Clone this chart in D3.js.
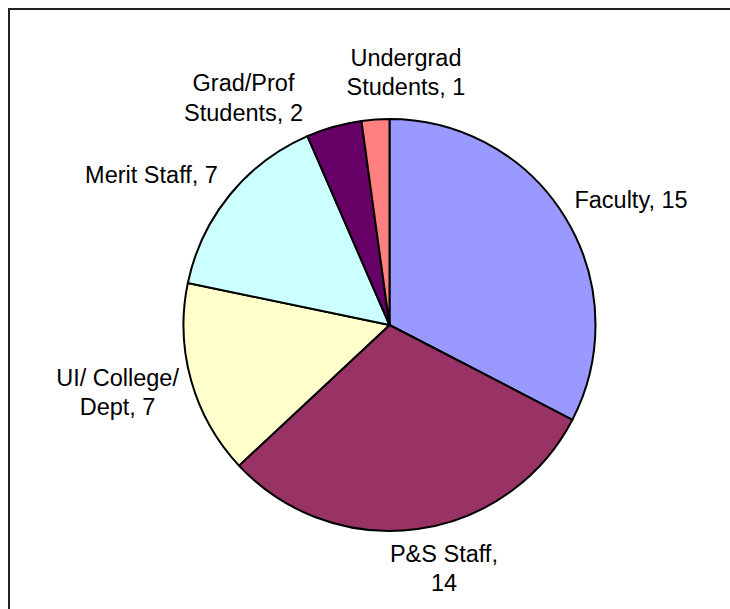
<!DOCTYPE html>
<html>
<head>
<meta charset="utf-8">
<script src="https://cdn.jsdelivr.net/npm/d3@7"></script>
<style>
  html, body { margin: 0; padding: 0; background: #fff; overflow: hidden; }
  svg { display: block; overflow: hidden; }
  text { font-family: "Liberation Sans", Arial, sans-serif; fill: #000; }
</style>
</head>
<body>
<svg id="chart" width="730" height="609"></svg>
<script>
// ---- data ----
const categories = ["Faculty", "P&S Staff", "UI/ College/ Dept", "Merit Staff", "Grad/Prof Students", "Undergrad Students"];
const values = [15, 14, 7, 7, 2, 1];
const labelLines = [
  ["Faculty, 15"],
  ["P&S Staff,", "14"],
  ["UI/ College/", "Dept, 7"],
  ["Merit Staff, 7"],
  ["Grad/Prof", "Students, 2"],
  ["Undergrad", "Students, 1"]
];
const colors = ["#9999FF", "#993366", "#FFFFCC", "#CCFFFF", "#660066", "#FF8080"];

// ---- layout ----
const W = 730, H = 609;
const cx = 389.5, cy = 325, R = 206;
const fontSize = 23.5, lineH = 29.5;
// label nudges from the slice's outer edge point (to first baseline, centred text)
const labelNudge = [[65.5, -9.9], [26.4, 32.9], [-73.6, 5.4], [-78.2, -12.5], [-90.4, -35.6], [30.5, -53.5]];

const svg = d3.select("#chart");
svg.append("rect").attr("x", 0).attr("y", 0).attr("width", W).attr("height", H).attr("fill", "#fff");
// chart-area frame: only top and left edges are inside the picture
svg.append("path")
  .attr("d", d3.line()([[9, H + 10], [9, 9], [W + 10, 9]]))
  .attr("fill", "none").attr("stroke", "#222").attr("stroke-width", 2);

const data = categories.map((c, i) => ({ name: c, value: values[i], idx: i }));
const pie = d3.pie().value(d => d.value).sort(null).startAngle(0).endAngle(2 * Math.PI);
const arcs = pie(data);
const arc = d3.arc().innerRadius(0).outerRadius(R);
const color = d3.scaleOrdinal().domain(categories).range(colors);

const g = svg.append("g").attr("transform", `translate(${cx},${cy})`);
g.selectAll("path.slice").data(arcs).enter().append("path")
  .attr("class", "slice")
  .attr("d", arc)
  .attr("fill", d => color(d.data.name))
  .attr("stroke", "#000")
  .attr("stroke-width", 2)
  .attr("stroke-linejoin", "round");

g.selectAll("text.lbl").data(arcs).enter().append("text")
  .attr("class", "lbl")
  .attr("text-anchor", "middle")
  .attr("font-size", fontSize)
  .each(function (d) {
    const mid = (d.startAngle + d.endAngle) / 2;
    const ex = R * Math.sin(mid), ey = -R * Math.cos(mid);
    const n = labelNudge[d.data.idx];
    const x = ex + n[0], y = ey + n[1];
    const t = d3.select(this);
    labelLines[d.data.idx].forEach((line, k) => {
      t.append("tspan").attr("x", x).attr("y", y + k * lineH).text(line);
    });
  });
</script>
</body>
</html>
